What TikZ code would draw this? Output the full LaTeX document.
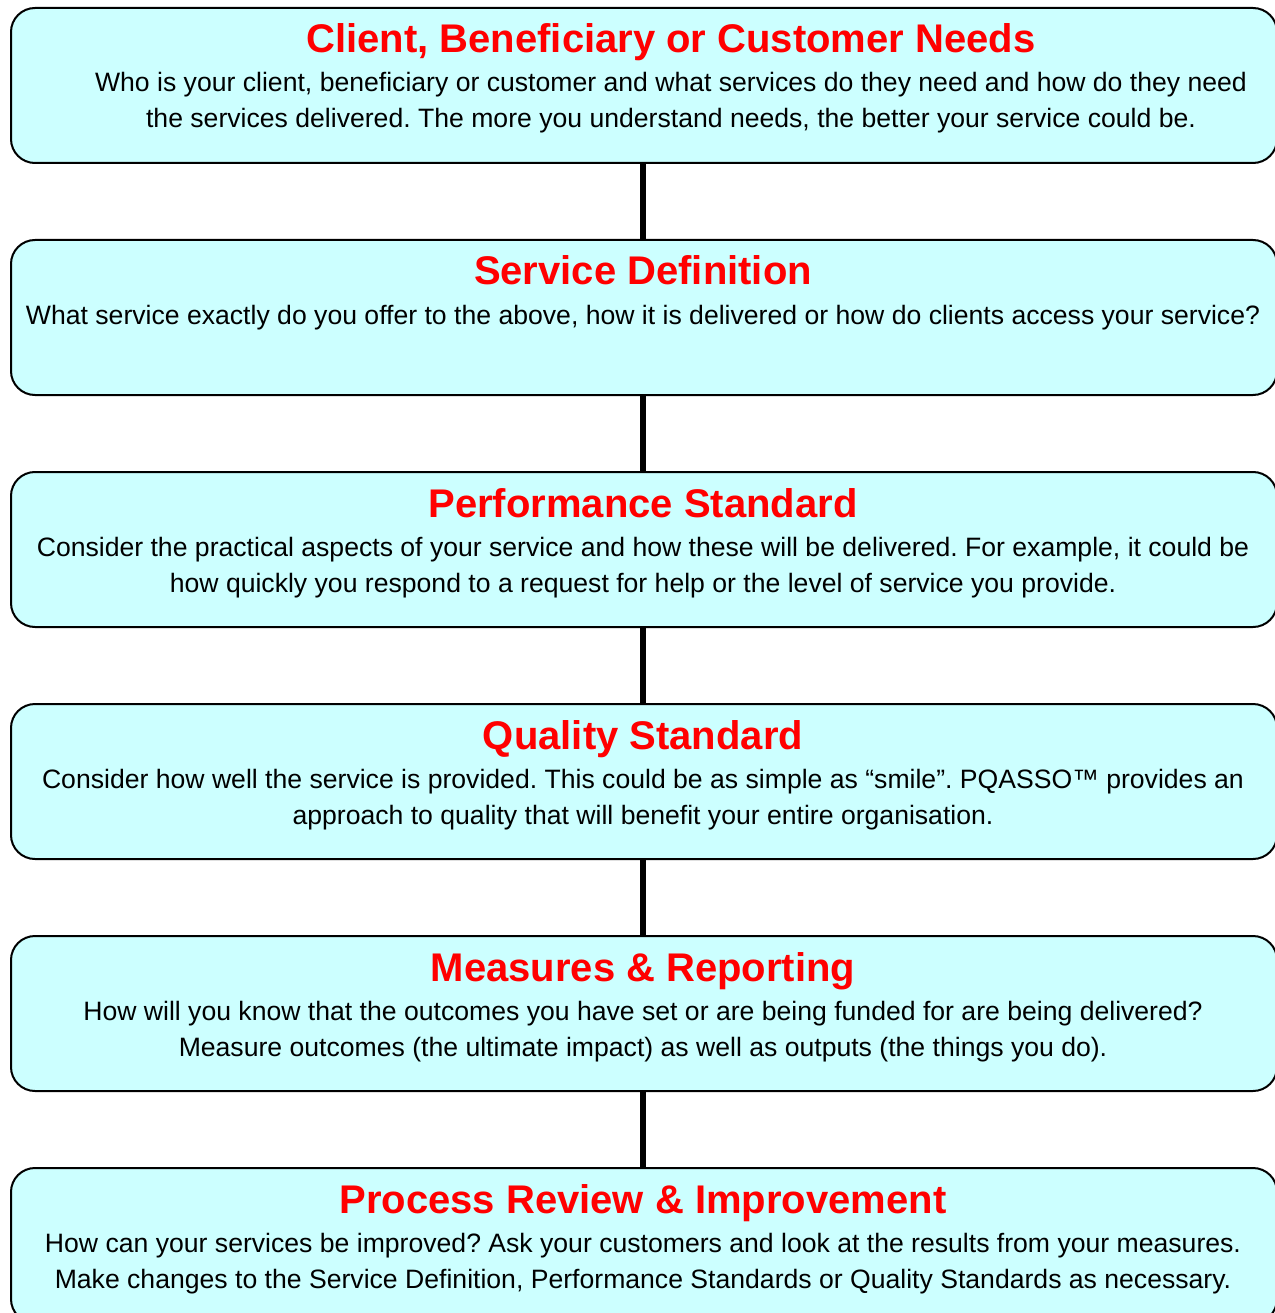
\documentclass[tikz,border=0pt]{standalone}
\usepackage{fontspec}
\setmainfont{Liberation Sans}
\frenchspacing
\definecolor{boxfill}{HTML}{CCFFFF}
\definecolor{titlered}{HTML}{FF0000}
\begin{document}
\begin{tikzpicture}[x=1pt,y=-1pt,
  stepbox/.style={draw=black,line width=2pt,fill=boxfill,rounded corners=24pt,
    minimum width=1266pt,minimum height=155pt,anchor=north west,inner sep=0pt},
  titletext/.style={font=\fontsize{40}{46}\selectfont\bfseries,text=titlered,inner sep=0pt,anchor=base},
  bodytext/.style={font=\fontsize{26.6}{36}\selectfont,inner sep=0pt,anchor=base},
  link/.style={line width=6pt,black}]
\path[use as bounding box] (0,0) rectangle (1274,1313);
\node[stepbox] (b1) at (10,7) {};
\node[stepbox] (b2) at (10,239) {};
\node[stepbox] (b3) at (10,471) {};
\node[stepbox] (b4) at (10,703) {};
\node[stepbox] (b5) at (10,935) {};
\node[stepbox] (b6) at (10,1167) {};
\draw[link] (b1.south -| 643,0) -- (b2.north -| 643,0);
\draw[link] (b2.south -| 643,0) -- (b3.north -| 643,0);
\draw[link] (b3.south -| 643,0) -- (b4.north -| 643,0);
\draw[link] (b4.south -| 643,0) -- (b5.north -| 643,0);
\draw[link] (b5.south -| 643,0) -- (b6.north -| 643,0);
% box 1
\node[titletext] (t1) at (671,53) {Client, Beneficiary or Customer Needs};
\node[bodytext] (d1a) at (671,92) {Who is your client, beneficiary or customer and what services do they need and how do they need};
\node[bodytext] (d1b) at (671,128) {the services delivered. The more you understand needs, the better your service could be.};
% box 2
\node[titletext] (t2) at (643,285) {Service Definition};
\node[bodytext] (d2a) at (643,324) {What service exactly do you offer to the above, how it is delivered or how do clients access your service?};
% box 3
\node[titletext] (t3) at (643,517) {Performance Standard};
\node[bodytext] (d3a) at (643,556) {Consider the practical aspects of your service and how these will be delivered. For example, it could be};
\node[bodytext] (d3b) at (643,592) {how quickly you respond to a request for help or the level of service you provide.};
% box 4
\node[titletext] (t4) at (643,749) {Quality Standard};
\node[bodytext] (d4a) at (643,788) {Consider how well the service is provided. This could be as simple as “smile”. PQASSO™ provides an};
\node[bodytext] (d4b) at (643,824) {approach to quality that will benefit your entire organisation.};
% box 5
\node[titletext] (t5) at (643,981) {Measures \& Reporting};
\node[bodytext] (d5a) at (643,1020) {How will you know that the outcomes you have set or are being funded for are being delivered?};
\node[bodytext] (d5b) at (643,1056) {Measure outcomes (the ultimate impact) as well as outputs (the things you do).};
% box 6
\node[titletext] (t6) at (643,1213) {Process Review \& Improvement};
\node[bodytext] (d6a) at (643,1252) {How can your services be improved? Ask your customers and look at the results from your measures.};
\node[bodytext] (d6b) at (643,1288) {Make changes to the Service Definition, Performance Standards or Quality Standards as necessary.};
\end{tikzpicture}
\end{document}
